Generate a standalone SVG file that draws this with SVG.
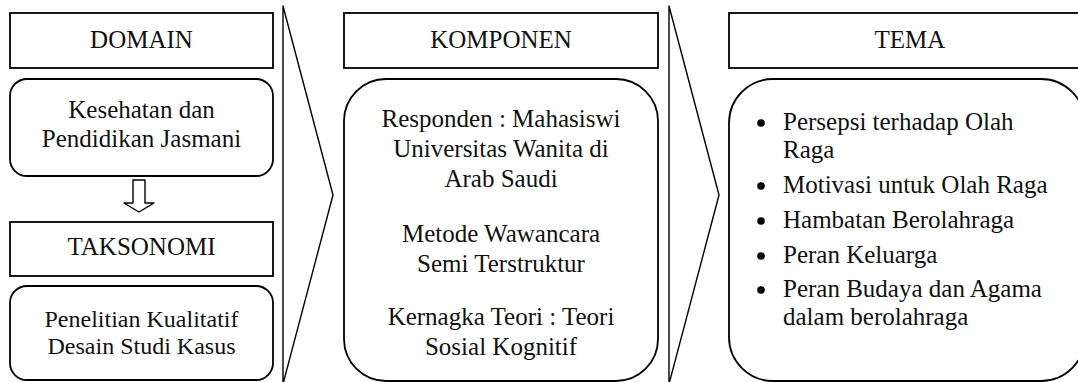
<svg xmlns="http://www.w3.org/2000/svg" width="1078" height="382" viewBox="0 0 1078 382">
<style>
.box{fill:#fff;stroke:#000;stroke-width:1.8}
.chev{fill:none;stroke:#000;stroke-width:1.4;stroke-linejoin:round}
text{font-family:"Liberation Serif","Times New Roman",serif;font-size:25px;fill:#111}
.c{text-anchor:middle}
.h{font-size:25px}
.s{font-size:24px}
</style>
<rect width="1078" height="382" fill="#fff"/>
<g id="connectors">
<polygon class="chev" points="283,6 333,195 283,384"/>
<polygon class="chev" points="669,6 719,195 669,384"/>
<polygon class="chev" points="133,180 145,180 145,203 154,203 139,212 124,203 133,203"/>
</g>
<g id="domain">
<rect class="box" x="10" y="13" width="263" height="55"/>
<text class="c h" x="141.5" y="48">DOMAIN</text>
</g>
<g id="domain-isi">
<rect class="box" x="10" y="79" width="263" height="97" rx="17"/>
<text class="c" x="141.5" y="118">Kesehatan dan</text>
<text class="c" x="141.5" y="147">Pendidikan Jasmani</text>
</g>
<g id="taksonomi">
<rect class="box" x="10" y="222" width="263" height="54"/>
<text class="c h" x="141.5" y="255">TAKSONOMI</text>
</g>
<g id="taksonomi-isi">
<rect class="box" x="10" y="286" width="263" height="94" rx="17"/>
<text class="c s" x="141.5" y="327">Penelitian Kualitatif</text>
<text class="c s" x="141.5" y="354">Desain Studi Kasus</text>
</g>
<g id="komponen">
<rect class="box" x="344" y="13" width="314" height="55"/>
<text class="c h" x="501" y="48">KOMPONEN</text>
</g>
<g id="komponen-isi">
<rect class="box" x="344" y="79" width="314" height="302" rx="42"/>
<text class="c" x="501" y="127">Responden : Mahasiswi</text>
<text class="c" x="501" y="157">Universitas Wanita di</text>
<text class="c" x="501" y="187">Arab Saudi</text>
<text class="c" x="501" y="242">Metode Wawancara</text>
<text class="c" x="501" y="272">Semi Terstruktur</text>
<text class="c" x="501" y="325">Kernagka Teori : Teori</text>
<text class="c" x="501" y="355">Sosial Kognitif</text>
</g>
<g id="tema">
<rect class="box" x="729" y="13" width="362" height="55"/>
<text class="c h" x="910" y="48">TEMA</text>
</g>
<g id="tema-isi">
<rect class="box" x="729" y="79" width="356" height="302" rx="44"/>
<circle cx="761" cy="123" r="3.8"/>
<text x="783" y="130">Persepsi terhadap Olah</text>
<text x="783" y="158">Raga</text>
<circle cx="761" cy="186" r="3.8"/>
<text x="783" y="193">Motivasi untuk Olah Raga</text>
<circle cx="761" cy="221" r="3.8"/>
<text x="783" y="228">Hambatan Berolahraga</text>
<circle cx="761" cy="256" r="3.8"/>
<text x="783" y="263">Peran Keluarga</text>
<circle cx="761" cy="290" r="3.8"/>
<text x="783" y="297">Peran Budaya dan Agama</text>
<text x="783" y="325">dalam berolahraga</text>
</g>
</svg>
